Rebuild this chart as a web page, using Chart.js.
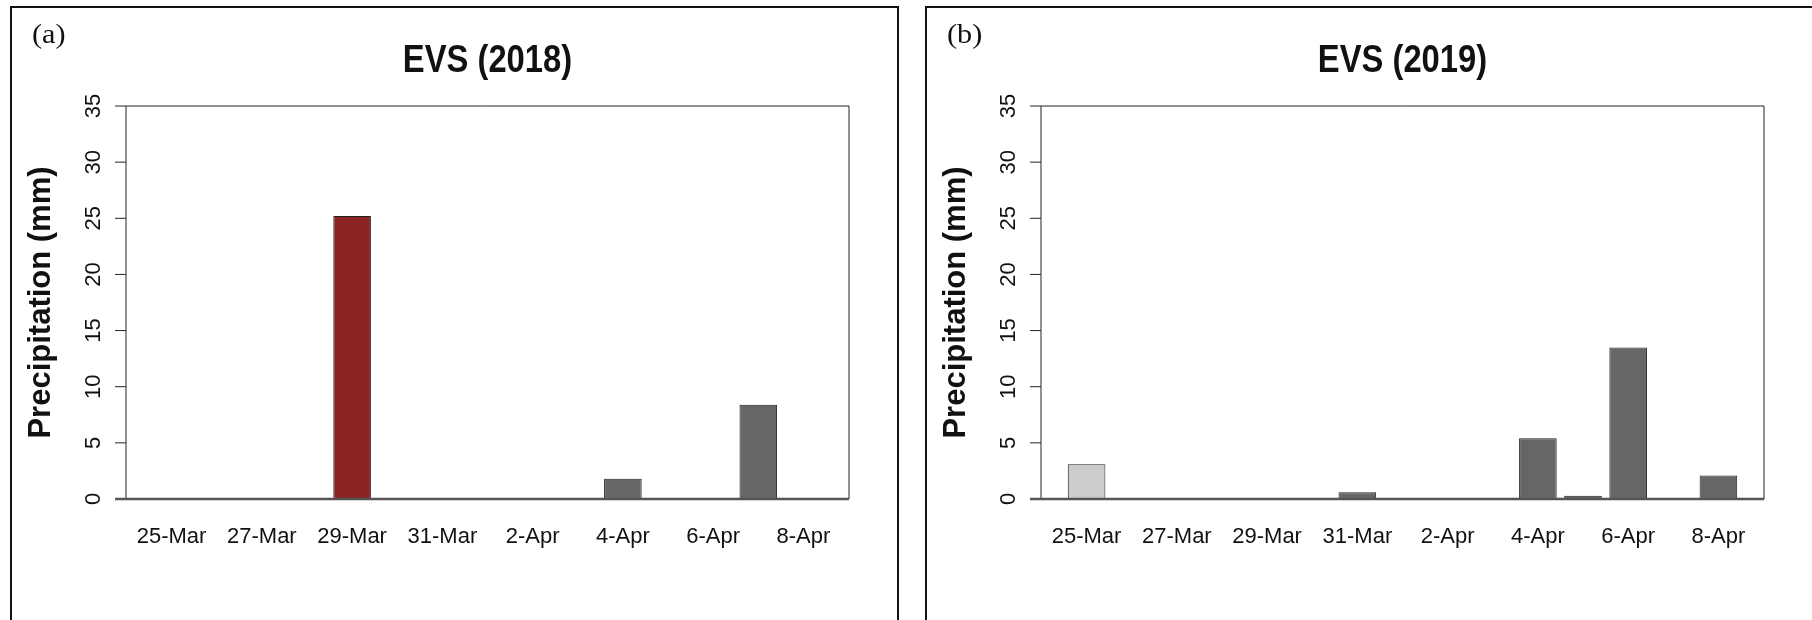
<!DOCTYPE html>
<html>
<head>
<meta charset="utf-8">
<script src="https://cdn.jsdelivr.net/npm/chart.js@4.4.1/dist/chart.umd.min.js"></script>
<style>
  html, body { margin: 0; padding: 0; background: #fff; width: 1812px; height: 620px; overflow: hidden; }
  body { position: relative; }
  .panel { position: absolute; top: 6px; height: 700px; border: 2px solid #111; box-sizing: border-box; }
  canvas { position: absolute; top: 0; }
</style>
</head>
<body>
<div class="panel" style="left:10px; width:889px"></div>
<div class="panel" style="left:925px; width:1000px"></div>
<canvas id="evs2018" width="912" height="620" style="left:0"></canvas>
<canvas id="evs2019" width="897" height="620" style="left:915px"></canvas>
<script>
// daily precipitation, 25 Mar - 8 Apr
const days = ['25-Mar', '26-Mar', '27-Mar', '28-Mar', '29-Mar', '30-Mar', '31-Mar', '1-Apr',
              '2-Apr', '3-Apr', '4-Apr', '5-Apr', '6-Apr', '7-Apr', '8-Apr'];
const xTickDays = ['25-Mar', '27-Mar', '29-Mar', '31-Mar', '2-Apr', '4-Apr', '6-Apr', '8-Apr'];
const yTicks = [0, 5, 10, 15, 20, 25, 30, 35];
const precip2018 = [0, 0, 0, 0, 25.2, 0, 0, 0, 0, 0, 1.8, 0, 0, 8.4, 0];
const precip2019 = [3.1, 0, 0, 0, 0, 0, 0.6, 0, 0, 0, 5.4, 0.3, 13.5, 0, 2.1];

const SANS = "'Liberation Sans', Arial, sans-serif";
const GREY = '#666666';

// R style frame: box, ticks, rotated y labels, titles
const rFrame = {
  id: 'rFrame',
  afterDatasetsDraw(chart, args, opts) {
    const { ctx, chartArea: a, scales: { x, y } } = chart;
    ctx.save();
    ctx.fillStyle = '#111';

    ctx.strokeStyle = '#222';
    ctx.lineWidth = 1;
    ctx.beginPath();
    ctx.moveTo(a.left, a.bottom);
    ctx.lineTo(a.left, a.top);
    ctx.lineTo(a.right, a.top);
    ctx.lineTo(a.right, a.bottom);
    ctx.stroke();

    // y ticks + labels
    ctx.font = '22px ' + SANS;
    ctx.textAlign = 'center';
    ctx.textBaseline = 'alphabetic';
    yTicks.forEach(v => {
      const py = y.getPixelForValue(v);
      ctx.beginPath();
      ctx.moveTo(a.left - 11, py);
      ctx.lineTo(a.left, py);
      ctx.stroke();
      ctx.save();
      ctx.translate(a.left - 26.5, py);
      ctx.rotate(-Math.PI / 2);
      ctx.fillText(String(v), 0, 0);
      ctx.restore();
    });

    // baseline
    const y0 = y.getPixelForValue(0);
    ctx.strokeStyle = '#555';
    ctx.lineWidth = 2.5;
    ctx.beginPath();
    ctx.moveTo(a.left - 11, y0);
    ctx.lineTo(a.right, y0);
    ctx.stroke();

    // x labels
    xTickDays.forEach(d => {
      const px = x.getPixelForValue(days.indexOf(d));
      ctx.fillText(d, px, a.bottom + 43.5);
    });

    // y title
    ctx.save();
    ctx.font = 'bold 31px ' + SANS;
    ctx.translate(a.left - 76, (a.top + a.bottom) / 2);
    ctx.rotate(-Math.PI / 2);
    ctx.fillText('Precipitation (mm)', 0, 0);
    ctx.restore();

    // main title
    ctx.save();
    ctx.font = 'bold 39px ' + SANS;
    ctx.translate((a.left + a.right) / 2, 71.5);
    ctx.scale(0.84, 1);
    ctx.fillText(opts.title, 0, 0);
    ctx.restore();

    // panel tag
    ctx.save();
    ctx.font = "27px 'Liberation Serif', 'Times New Roman', serif";
    ctx.textAlign = 'left';
    ctx.translate(a.left - 94, 43);
    ctx.scale(1.12, 1);
    ctx.fillText(opts.tag, 0, 0);
    ctx.restore();

    ctx.restore();
  }
};

function makeChart(id, values, colours, title, tag) {
  const canvas = document.getElementById(id);
  return new Chart(canvas, {
    type: 'bar',
    data: {
      datasets: [{
        data: values.map((v, i) => ({ x: i, y: v })),
        backgroundColor: colours,
        borderColor: '#222',
        borderWidth: 1,
        categoryPercentage: 1,
        barPercentage: 1 / 1.2
      }]
    },
    options: {
      responsive: false,
      animation: false,
      layout: { padding: { left: 126, right: canvas.width - 849, top: 106, bottom: 121 } },
      plugins: {
        legend: { display: false },
        tooltip: { enabled: false },
        rFrame: { title: title, tag: tag }
      },
      scales: {
        x: {
          type: 'linear',
          min: -1.01,
          max: 15.01,
          offset: false,
          grid: { offset: false },
          display: false,
          afterBuildTicks: s => { s.ticks = xTickDays.map(d => ({ value: days.indexOf(d) })); }
        },
        y: { min: 0, max: 35, display: false }
      }
    },
    plugins: [rFrame]
  });
}

makeChart('evs2018', precip2018, days.map(d => d === '29-Mar' ? '#8B2323' : GREY), 'EVS (2018)', '(a)');
makeChart('evs2019', precip2019, days.map(d => d === '25-Mar' ? '#CCCCCC' : GREY), 'EVS (2019)', '(b)');
</script>
</body>
</html>
